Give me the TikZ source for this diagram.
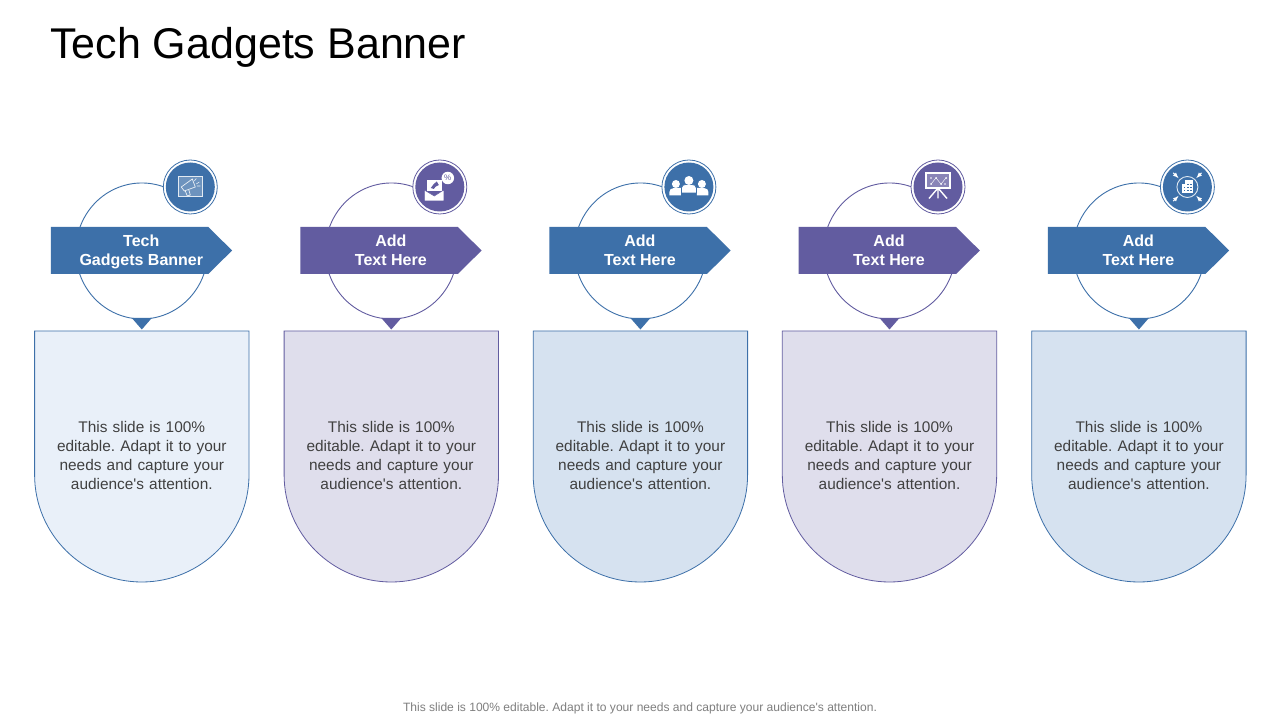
\documentclass[tikz,border=0pt]{standalone}
\usepackage{fontspec}
\setmainfont{Liberation Sans}[Ligatures=TeXOff]
\frenchspacing
\definecolor{blueA}{HTML}{3D70A9}
\definecolor{purpleA}{HTML}{625CA0}
\definecolor{cardA}{HTML}{E9F0F9}
\definecolor{cardB}{HTML}{DFDEEC}
\definecolor{cardC}{HTML}{D6E2F0}
\definecolor{bodygray}{HTML}{404040}
\definecolor{footgray}{HTML}{7F7F7F}
\tikzset{
  bannerbox/.style={text=white,font=\fontsize{16}{19}\selectfont\bfseries,align=center},
  bodytext/.style={text=bodygray,font=\fontsize{15.4}{19}\selectfont,align=center},
  iconw/.style={fill=white,draw=none},
}
% column: #1 id, #2 centre x, #3 colour, #4 card fill, #5 first line, #6 second line, #7 icon macro
\newcommand{\gadgetcol}[7]{
  \coordinate (cc#1) at (#2,251);
  \draw[#3,line width=0.9pt] ([shift={(60:66pt and 68pt)}]cc#1) arc[start angle=60,end angle=345,x radius=66pt,y radius=68pt];
  \path[draw=#3,line width=0.8pt,fill=#4]
    ([xshift=-107.2pt,yshift=-80pt]cc#1) -- ([xshift=107.2pt,yshift=-80pt]cc#1)
    -- ([xshift=107.2pt,yshift=-223.8pt]cc#1)
    arc[start angle=0,end angle=-180,radius=107.2pt] -- cycle;
  \node[bodytext,text width=200pt] (body#1) at ([yshift=-205pt]cc#1)
    {This slide is 100\%\\editable. Adapt it to your\\needs and capture your\\audience's attention.};
  \path[fill=#3] ([xshift=-10pt,yshift=-67pt]cc#1) -- ([xshift=10pt,yshift=-67pt]cc#1)
    -- ([yshift=-78.5pt]cc#1) -- cycle;
  \path[fill=#3] ([xshift=-91pt,yshift=24pt]cc#1) -- ([xshift=66.5pt,yshift=24pt]cc#1)
    -- ([xshift=90.3pt,yshift=0.5pt]cc#1) -- ([xshift=66.5pt,yshift=-23pt]cc#1)
    -- ([xshift=-91pt,yshift=-23pt]cc#1) -- cycle;
  \node[bannerbox] (label#1) at ([xshift=-0.5pt,yshift=-1pt]cc#1) {\strut #5\\\strut #6};
  \node[circle,draw=#3,fill=white,line width=0.8pt,minimum size=54pt,inner sep=0pt] (halo#1) at ([xshift=48.5pt,yshift=64pt]cc#1) {};
  \node[circle,fill=#3,minimum size=49pt,inner sep=0pt] (disc#1) at (halo#1) {};
  \begin{scope}[shift={(halo#1)}]
    #7
  \end{scope}
}
\newcommand{\iconmega}{
  \fill[white,opacity=0.25] (-12,-10) rectangle (12,10);
  \draw[white!85!blueA,line width=1pt] (-12,-10) rectangle (12,10);
  \draw[white!90!blueA,line width=0.7pt] (-9,0) -- (2,8) -- (5,0) -- (-6,-4) -- cycle;
  \draw[white!90!blueA,line width=0.7pt] (-5,-4) -- (-3,-9) -- (0,-8) -- (-1.5,-2.8);
  \draw[white!90!blueA,line width=0.6pt] (6,3) -- (9,5) (6.5,1) -- (10,1) (4,6) -- (6,8.5);
}
\newcommand{\iconmail}{
  \path[iconw] (-13,-4) rectangle (2,7);
  \path[fill=purpleA] (-9,-1) -- (-6,3) -- (-3,5.5) -- (-1,2) -- (-4,0.5) -- (-6,-2) -- cycle;
  \path[iconw,draw=purpleA,line width=0.5pt] (-15.5,-14) -- (4,-14) -- (4,-3) -- (-5.5,-9) -- (-15.5,-3) -- cycle;
  \node[circle,fill=white,minimum size=12.5pt,inner sep=0pt,text=purpleA,font=\fontsize{8}{8}\selectfont] (pct) at (8,9) {\%};
}
\newcommand{\iconteam}{
  \fill[white] (-13,3) circle (4);
  \fill[white] (13,3) circle (4);
  \path[iconw] (-19.5,-8.5) -- (-8,-8.5) -- (-8,-1) -- (-15,-1) .. controls (-18,-1) and (-19.5,-3) .. (-19.5,-5) -- cycle;
  \path[iconw] (19.5,-8.5) -- (8,-8.5) -- (8,-1) -- (15,-1) .. controls (18,-1) and (19.5,-3) .. (19.5,-5) -- cycle;
  \path[iconw,draw=blueA,line width=0.7pt] (-7.5,-6) -- (7.5,-6) -- (7.5,-1) .. controls (7.5,1.5) and (5,2.5) .. (3,2.5) -- (-3,2.5) .. controls (-5,2.5) and (-7.5,1.5) .. (-7.5,-1) -- cycle;
  \fill[white] (0,6.5) circle (4.5);
}
\newcommand{\iconboard}{
  \fill[white,opacity=0.25] (-12,-1) rectangle (12,14);
  \draw[white,line width=1.1pt] (-12,-1) rectangle (12,14);
  \draw[white,line width=0.4pt] (-7,3) -- (-2,9) -- (3,3) -- (8,9);
  \fill[white] (-7,3) circle (1) (-2,9) circle (1) (3,3) circle (1) (8,9) circle (1) (-7,9) circle (0.8) (7,3) circle (0.8);
  \draw[white,line width=1.4pt] (0,-1) -- (0,-11.5) (0,-1) -- (-9,-11.5) (0,-1) -- (9,-11.5);
}
\newcommand{\iconbuild}{
  \draw[white!85!blueA,line width=0.9pt] (0,0) circle (10.5);
  \path[iconw] (-5,-6) rectangle (6,3);
  \path[iconw] (-2,-6) rectangle (6,6.5);
  \foreach \xx in {-3,0.5,3.5}{\foreach \yy in {-3.5,-0.5}{\fill[blueA] (\xx-0.7,\yy-0.7) rectangle (\xx+0.6,\yy+0.6);}}
  \foreach \xx in {0.5,3.5}{\foreach \yy in {2.5}{\fill[blueA] (\xx-0.7,\yy-0.7) rectangle (\xx+0.6,\yy+0.6);}}
  \foreach \aa in {45,135,225,315}{
    \draw[white,line width=1pt,-latex] (\aa:20) -- (\aa:12.5);
  }
}
\begin{document}
\begin{tikzpicture}[x=1pt,y=1pt]
\useasboundingbox (0,0) rectangle (1280,720);
\fill[white] (0,0) rectangle (1280,720);
\node[anchor=west,inner sep=0pt,font=\fontsize{43}{48}\selectfont,text=black] (title) at (50,673) {Tech Gadgets Banner};
\node[inner sep=0pt,font=\fontsize{12.05}{14}\selectfont,text=footgray] (foot) at (640,11.5) {This slide is 100\% editable. Adapt it to your needs and capture your audience's attention.};
\begin{scope}[shift={(0,218)}]
\gadgetcol{1}{141.8}{blueA}{cardA}{Tech}{Gadgets Banner}{\iconmega}
\gadgetcol{2}{391.3}{purpleA}{cardB}{Add}{Text Here}{\iconmail}
\gadgetcol{3}{640.4}{blueA}{cardC}{Add}{Text Here}{\iconteam}
\gadgetcol{4}{889.5}{purpleA}{cardB}{Add}{Text Here}{\iconboard}
\gadgetcol{5}{1138.9}{blueA}{cardC}{Add}{Text Here}{\iconbuild}
\end{scope}
\end{tikzpicture}
\end{document}
